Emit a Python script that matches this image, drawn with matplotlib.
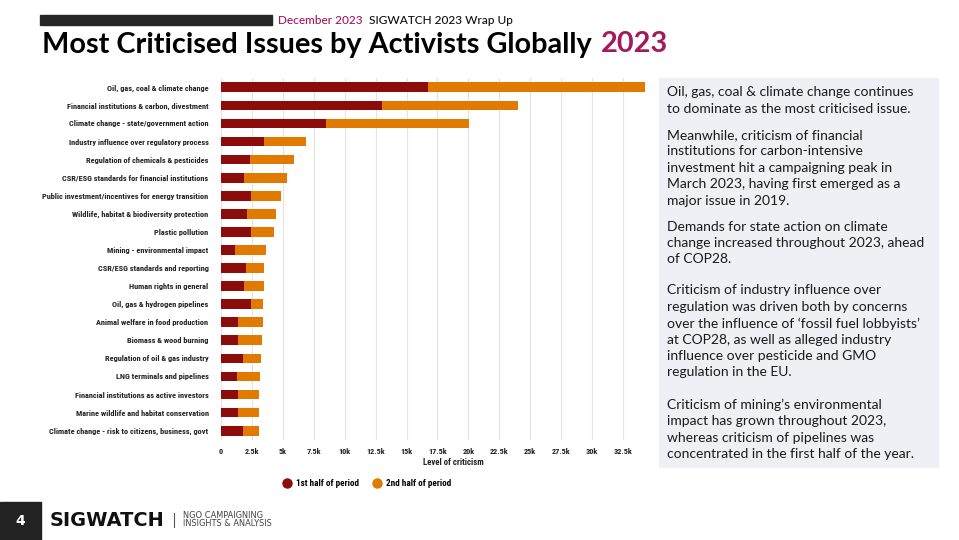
#!/usr/bin/env python
#+++ Imports
import matplotlib
matplotlib.use("Agg")
import matplotlib.pyplot as plt
from matplotlib import font_manager as fm
from matplotlib.lines import Line2D
from matplotlib.patches import Rectangle
from matplotlib.ticker import FuncFormatter
#---

#+++ Data
issues = [
    "Oil, gas, coal & climate change",
    "Financial institutions & carbon, divestment",
    "Climate change - state/government action",
    "Industry influence over regulatory process",
    "Regulation of chemicals & pesticides",
    "CSR/ESG standards for financial institutions",
    "Public investment/incentives for energy transition",
    "Wildlife, habitat & biodiversity protection",
    "Plastic pollution",
    "Mining - environmental impact",
    "CSR/ESG standards and reporting",
    "Human rights in general",
    "Oil, gas & hydrogen pipelines",
    "Animal welfare in food production",
    "Biomass & wood burning",
    "Regulation of oil & gas industry",
    "LNG terminals and pipelines",
    "Financial institutions as active investors",
    "Marine wildlife and habitat conservation",
    "Climate change - risk to citizens, business, govt",
]
first_half = [16730, 13030, 8460, 3450, 2360, 1850, 2430, 2100, 2430, 1150,
              2000, 1850, 2460, 1370, 1370, 1790, 1310, 1400, 1370, 1760]
second_half = [17530, 10970, 11620, 3450, 3510, 3450, 2420, 2370, 1880, 2520,
               1480, 1630, 960, 2050, 1920, 1430, 1820, 1670, 1700, 1310]
series_labels = ["1st half of period", "2nd half of period"]
tick_step = 2500
tick_max = 32500

notes = [
    ["Oil, gas, coal & climate change continues",
     "to dominate as the most criticised issue."],
    ["Meanwhile, criticism of financial",
     "institutions for carbon-intensive",
     "investment hit a campaigning peak in",
     "March 2023, having first emerged as a",
     "major issue in 2019."],
    ["Demands for state action on climate",
     "change increased throughout 2023, ahead",
     "of COP28."],
    ["Criticism of industry influence over",
     "regulation was driven both by concerns",
     "over the influence of \u2018fossil fuel lobbyists\u2019",
     "at COP28, as well as alleged industry",
     "influence over pesticide and GMO",
     "regulation in the EU."],
    ["Criticism of mining\u2019s environmental",
     "impact has grown throughout 2023,",
     "whereas criticism of pipelines was",
     "concentrated in the first half of the year."],
]
#---

#+++ Style
DARK_RED = "#8E0B0B"
ORANGE = "#E07A00"
CRIMSON = "#A3195B"
PANEL = "#EEF0F5"
W, H = 959, 540

names = {f.name for f in fm.fontManager.ttflist}
def pick(*cands):
    return next((c for c in cands if c in names), "DejaVu Sans")
label_font = pick("Roboto Condensed", "Liberation Sans Narrow", "Roboto")
head_font = pick("Lato", "Open Sans")
body_font = pick("Lato", "Noto Sans")
logo_font = "DejaVu Sans"
#---

fig = plt.figure(figsize=(W / 100, H / 100), dpi=100)
renderer = fig.canvas.get_renderer()

def fx(px):
    return px / W

def fy(py):
    return 1 - py / H

def width_of(t):
    return t.get_window_extent(renderer).width

def fit(t, target):
    t.set_fontsize(t.get_fontsize() * target / width_of(t))

#+++ Chart
ax = fig.add_axes([fx(221), fy(439.7), fx(651.5 - 221), (439.7 - 78.3) / H])
ypos = list(range(len(issues)))
ax.barh(ypos, first_half, height=0.54, color=DARK_RED, label=series_labels[0], zorder=3)
ax.barh(ypos, second_half, left=first_half, height=0.54, color=ORANGE, label=series_labels[1], zorder=3)
ax.set_ylim(len(issues) - 0.5, -0.5)
ax.set_xlim(0, 34800)
ax.set_xticks(list(range(0, tick_max + 1, tick_step)))
ax.xaxis.set_major_formatter(FuncFormatter(lambda v, p: "0" if v == 0 else f"{v / 1000:g}k"))
ax.set_yticks(ypos, labels=issues)
ax.grid(axis="x", color="#e4e4e4", lw=0.8, zorder=0)
for s in ax.spines.values():
    s.set_visible(False)
ax.tick_params(axis="y", length=0, pad=9)
ax.tick_params(axis="x", length=0, pad=6)
for lab in ax.get_yticklabels() + ax.get_xticklabels():
    lab.set_fontfamily(label_font)
    lab.set_fontweight("bold")
    lab.set_fontsize(5.5)
    lab.set_color("#222222")

fig.canvas.draw()
widest = max(width_of(t) for t in ax.get_yticklabels())
ysize = 5.5 * 165 / widest
for lab in ax.get_yticklabels() + ax.get_xticklabels():
    lab.set_fontsize(ysize)

fig.text(fx(453), fy(462.7), "Level of criticism", ha="center", va="center",
         fontsize=ysize * 1.05, fontweight="bold", family=label_font, color="#222222")

handles = [Line2D([], [], marker="o", ls="", color=c, markersize=6.5) for c in (DARK_RED, ORANGE)]
fig.legend(handles, series_labels, loc="center", bbox_to_anchor=(fx(367), fy(484)), ncol=2,
           frameon=False, handletextpad=0.5, columnspacing=1.4, handlelength=1.0,
           prop=dict(family=label_font, weight="bold", size=ysize * 1.1))
#---

#+++ Header and title
fig.patches.append(Rectangle((fx(40), fy(25)), fx(272 - 40), 10 / H, transform=fig.transFigure,
                             color="#262626"))
h1 = fig.text(fx(278), fy(24.3), "December 2023", color=CRIMSON, fontsize=9, family=head_font,
              fontweight="medium", va="baseline")
h2 = fig.text(0, fy(24.3), "SIGWATCH 2023 Wrap Up", color="#111111", fontsize=9, family=head_font,
              fontweight="medium", va="baseline")
scale = (512 - 278 - 6) / (width_of(h1) + width_of(h2))
for t in (h1, h2):
    t.set_fontsize(9 * scale)
h2.set_x(fx(278 + width_of(h1) + 6))

t1 = fig.text(fx(42), fy(52.5), "Most Criticised Issues by Activists Globally", color="black",
              fontsize=18, fontweight="bold", family=head_font, va="baseline")
t2 = fig.text(0, fy(52.5), "2023", color=CRIMSON, fontsize=18, fontweight="bold", family=head_font, va="baseline")
scale = (668 - 42 - 9) / (width_of(t1) + width_of(t2))
for t in (t1, t2):
    t.set_fontsize(18 * scale)
t2.set_x(fx(42 + width_of(t1) + 9))
#---

#+++ Notes panel
fig.patches.append(Rectangle((fx(659), fy(467)), fx(938 - 659), (467 - 78) / H, transform=fig.transFigure,
                             color=PANEL, zorder=0))
para_top = [92.5, 135, 226.5, 290.5, 405]
line_step = 16.4
note_texts = []
for top, para in zip(para_top, notes):
    for i, line in enumerate(para):
        note_texts.append(fig.text(fx(667), fy(top + i * line_step), line, fontsize=10, family=body_font,
                                   va="center", color="#1a1a1a"))
nsize = 10 * 258 / max(width_of(t) for t in note_texts)
for t in note_texts:
    t.set_fontsize(nsize)
#---

#+++ Footer
fig.patches.append(Rectangle((0, 0), fx(40.7), (540 - 502.3) / H, transform=fig.transFigure, color="#222222"))
fig.text(fx(20.5), fy(521), "4", color="white", fontsize=10, fontweight="bold", family=logo_font,
         ha="center", va="center")
logo = fig.text(fx(50), fy(526), "SIGWATCH", color="#111111", fontsize=14, fontweight="bold",
                family=logo_font, va="baseline")
fit(logo, 115)
fig.add_artist(Line2D([fx(174), fx(174)], [fy(513), fy(527)], color="#555555", lw=0.8))
n1 = fig.text(fx(182.7), fy(515), "NGO CAMPAIGNING", color="#444444", fontsize=5, family=logo_font, va="center")
n2 = fig.text(fx(182.7), fy(523), "INSIGHTS & ANALYSIS", color="#444444", fontsize=5, family=logo_font, va="center")
fit(n2, 90)
n1.set_fontsize(n2.get_fontsize())
#---

fig.savefig("out.png", dpi=100)
